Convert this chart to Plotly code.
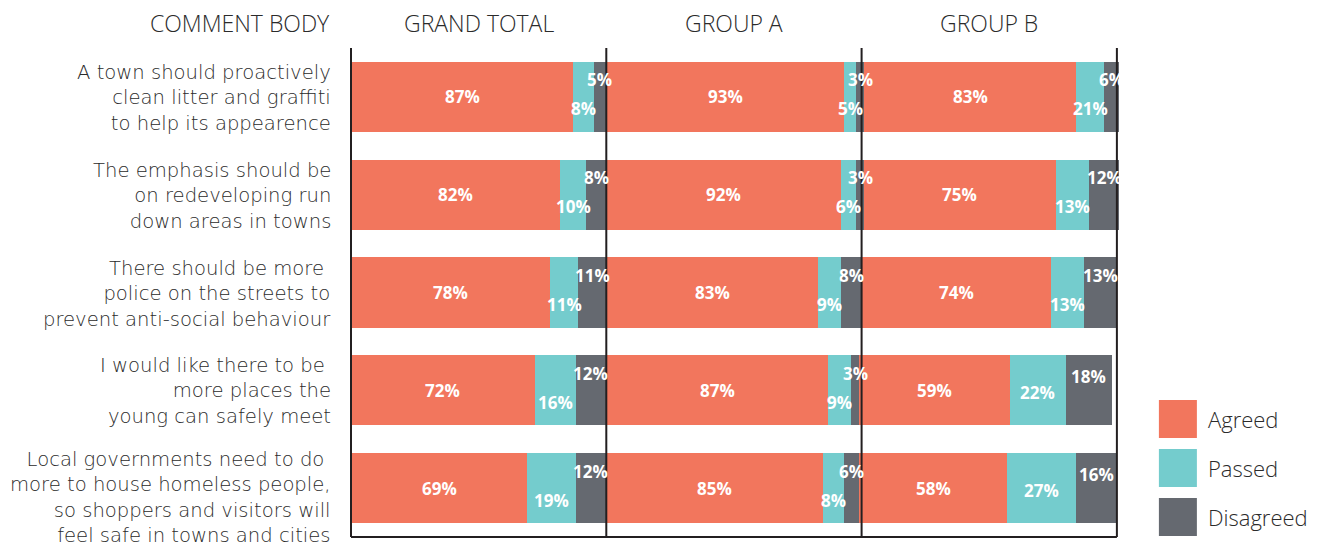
import plotly.graph_objects as go

# ---------------- data ----------------
categories = [
    "A town should proactively<br>clean litter and graffiti<br>to help its appearence",
    "The emphasis should be<br>on redeveloping run<br>down areas in towns",
    "There should be more <br>police on the streets to<br>prevent anti-social behaviour",
    "I would like there to be <br>more places the<br>young can safely meet",
    "Local governments need to do <br>more to house homeless people,<br>so shoppers and visitors will<br>feel safe in towns and cities",
]
groups = ["GRAND TOTAL", "GROUP A", "GROUP B"]
responses = ["Agreed", "Passed", "Disagreed"]

gt_agreed = [87, 82, 78, 72, 69]
gt_passed = [8, 10, 11, 16, 19]
gt_disagreed = [5, 8, 11, 12, 12]

ga_agreed = [93, 92, 83, 87, 85]
ga_passed = [5, 6, 9, 9, 8]
ga_disagreed = [3, 3, 8, 3, 6]

gb_agreed = [83, 75, 74, 59, 58]
gb_passed = [21, 13, 13, 22, 27]          # printed labels
gb_passed_drawn = [11, 13, 13, 22, 27]    # bar length as drawn in the source
gb_disagreed = [6, 12, 13, 18, 16]

# ---------------- style ----------------
COLORS = {"Agreed": "#F2765D", "Passed": "#74CCCD", "Disagreed": "#656970"}
FONT = "Open Sans"
LABEL_FONT = "DejaVu Sans"
TEXT_COLOR = "#2b2b2b"
LINE_COLOR = "#231F20"

OFF = 8  # page body margin
W, H = 1326 - OFF, 546 - OFF
ML, MT = 351 - OFF, 48 - OFF
PLOT_W, PLOT_H = 771.1, 489
XMAX = 302
MR = W - ML - PLOT_W
MB = H - MT - PLOT_H


def px2x(px):
    return (px - OFF - ML) / PLOT_W


def px2y(py):
    return (MT + PLOT_H - (py - OFF)) / PLOT_H


series = [
    ("GRAND TOTAL", gt_agreed, gt_passed, gt_passed, gt_disagreed),
    ("GROUP A", ga_agreed, ga_passed, ga_passed, ga_disagreed),
    ("GROUP B", gb_agreed, gb_passed_drawn, gb_passed, gb_disagreed),
]

fig = go.Figure()
annotations = []
base = [0.0] * len(categories)

for gname, agr, pas_drawn, pas_lbl, dis in series:
    for resp, vals, lbls in (("Agreed", agr, agr), ("Passed", pas_drawn, pas_lbl), ("Disagreed", dis, dis)):
        fig.add_trace(go.Bar(
            name=resp, y=categories, x=vals, orientation="h",
            marker=dict(color=COLORS[resp], line=dict(width=0)),
            showlegend=False, hoverinfo="x+y",
        ))
        for i, cat in enumerate(categories):
            center = base[i] + vals[i] / 2
            if resp == "Agreed":
                ys = 0
            elif resp == "Passed":
                ys = -2 if vals[i] >= 20 else -12
            else:
                ys = 14 if pas_drawn[i] >= 20 else 17
            annotations.append(dict(
                x=center, y=cat, xref="x", yref="y", text=f"{lbls[i]}%",
                showarrow=False, yshift=ys,
                font=dict(family=FONT, size=17, color="white", weight=700),
            ))
            base[i] += vals[i]

# category labels (right-aligned, top-anchored multi-line text)
for cat in categories:
    n = cat.count("<br>") + 1
    annotations.append(dict(
        x=px2x(332), y=cat, xref="paper", yref="y", text=cat,
        showarrow=False, xanchor="right", yanchor="top", align="right",
        yshift=37 + (n - 3) * 4, borderpad=0,
        font=dict(family=LABEL_FONT, size=19.6, color=TEXT_COLOR, weight=300),
    ))

# headers
annotations.append(dict(x=px2x(332), y=px2y(23), xref="paper", yref="paper", text="COMMENT BODY",
                        showarrow=False, xanchor="right", yanchor="middle",
                        font=dict(family=FONT, size=23, color=TEXT_COLOR, weight=300)))
for k, g in enumerate(groups):
    annotations.append(dict(x=(100 * k + 50) / XMAX, y=px2y(23), xref="paper", yref="paper", text=g,
                            showarrow=False, xanchor="center", yanchor="middle",
                            font=dict(family=FONT, size=23, color=TEXT_COLOR, weight=300)))

shapes = []
# panel frame lines
for k in range(4):
    xp = 100 * k / XMAX
    shapes.append(dict(type="line", xref="paper", yref="paper", x0=xp, x1=xp, y0=0, y1=1,
                       line=dict(color=LINE_COLOR, width=2), layer="above"))
shapes.append(dict(type="line", xref="paper", yref="paper", x0=0, x1=300 / XMAX, y0=0, y1=0,
                   line=dict(color=LINE_COLOR, width=2), layer="above"))

# legend (manual, large swatches)
leg_tops = [400, 449, 498]
for resp, top in zip(responses, leg_tops):
    shapes.append(dict(type="rect", xref="paper", yref="paper",
                       x0=px2x(1159), x1=px2x(1197), y0=px2y(top + 38), y1=px2y(top),
                       fillcolor=COLORS[resp], line=dict(width=0)))
    annotations.append(dict(x=px2x(1206), y=px2y(top + 19), xref="paper", yref="paper", text=resp,
                            showarrow=False, xanchor="left", yanchor="middle",
                            font=dict(family=FONT, size=22, color=TEXT_COLOR, weight=300)))

fig.update_layout(
    width=W, height=H,
    margin=dict(l=ML, r=MR, t=MT, b=MB, pad=0),
    barmode="stack", bargap=0.284,
    plot_bgcolor="white", paper_bgcolor="white",
    xaxis=dict(range=[0, XMAX], visible=False, fixedrange=True),
    yaxis=dict(categoryorder="array", categoryarray=categories, autorange="reversed",
               showticklabels=False, showgrid=False, zeroline=False, fixedrange=True),
    annotations=annotations, shapes=shapes,
    showlegend=False,
    font=dict(family=FONT, color=TEXT_COLOR),
)

fig.write_html("out.html")
